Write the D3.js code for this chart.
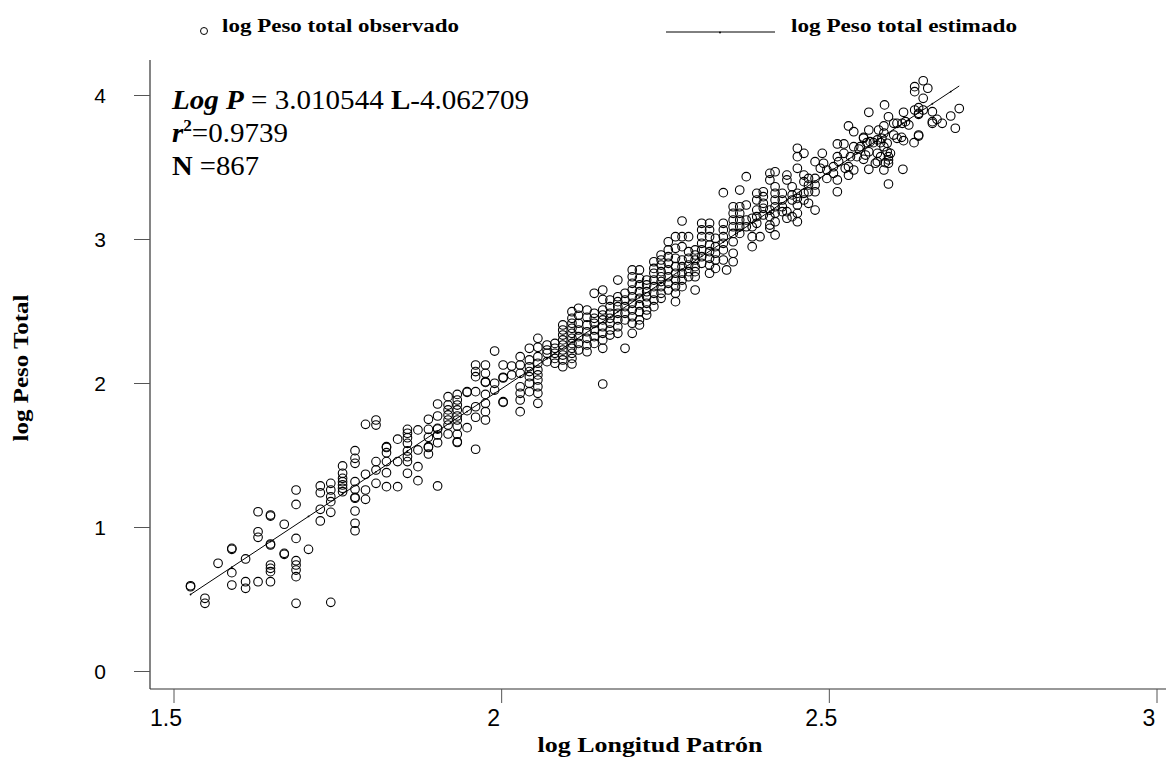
<!DOCTYPE html>
<html>
<head>
<meta charset="utf-8">
<script src="https://cdn.jsdelivr.net/npm/d3@7"></script>
<style>
  html, body { margin: 0; padding: 0; background: #fff; }
  svg { display: block; }
</style>
</head>
<body>
<svg id="chart" width="1170" height="762"></svg>
<script>
// Length–weight relationship: each row is one length class,
// [log standard length, log total weight of every fish in that class...]
const obsSmall = [
  [1.526, 0.592, 0.585],
  [1.548, 0.505, 0.470],
  [1.568, 0.748],
  [1.589, 0.852, 0.845, 0.683, 0.597],
  [1.610, 0.778, 0.620, 0.574],
  [1.629, 1.106, 0.967, 0.928, 0.620],
  [1.648, 1.083, 1.076, 0.882, 0.875, 0.736, 0.713, 0.690, 0.620],
  [1.669, 1.019, 0.817, 0.810],
  [1.687, 1.257, 1.157, 0.921, 0.766, 0.736, 0.701, 0.655, 0.470],
  [1.706, 0.845],
  [1.724, 1.285, 1.238, 1.123, 1.042],
  [1.740, 1.303, 1.257, 1.210, 1.176, 1.102, 0.477],
  [1.758, 1.424, 1.373, 1.338, 1.315, 1.292, 1.269, 1.245],
  [1.777, 1.530, 1.477, 1.442, 1.315, 1.262, 1.206, 1.200, 1.111, 1.026, 0.974],
  [1.793, 1.713, 1.366, 1.257, 1.192],
  [1.809, 1.743, 1.708, 1.454, 1.396, 1.303],
  [1.825, 1.558, 1.552, 1.516, 1.454, 1.377, 1.280],
  [1.842, 1.610, 1.454, 1.280]
];

const obsMid = [
  [1.857, 1.678, 1.651, 1.620, 1.581, 1.528, 1.488, 1.454, 1.373],
  [1.873, 1.674, 1.535, 1.419, 1.322],
  [1.889, 1.748, 1.678, 1.623, 1.558, 1.552, 1.507],
  [1.903, 1.854, 1.771, 1.685, 1.680, 1.639, 1.585, 1.285],
  [1.919, 1.905, 1.847, 1.813, 1.778, 1.743, 1.708, 1.646],
  [1.933, 1.921, 1.882, 1.847, 1.813, 1.771, 1.743, 1.701, 1.644, 1.592, 1.587],
  [1.948, 1.940, 1.935, 1.808, 1.690],
  [1.961, 2.125, 2.079, 2.044, 1.940, 1.835, 1.762, 1.540],
  [1.976, 2.125, 2.067, 2.009, 2.004, 1.921, 1.859, 1.801, 1.743],
  [1.990, 2.222, 1.998, 1.951],
  [2.003, 2.125, 2.040, 2.035, 1.870, 1.865],
  [2.016, 2.118, 2.056],
  [2.029, 2.183, 2.125, 2.067, 1.974, 1.928, 1.882, 1.801],
  [2.043, 2.241, 2.160, 2.113, 2.079, 2.044, 1.998, 1.940],
  [2.056, 2.310, 2.248, 2.183, 2.137, 2.090, 2.056, 2.021, 1.974, 1.928, 1.859],
  [2.070, 2.264, 2.229, 2.206, 2.148],
  [2.082, 2.275, 2.241, 2.206, 2.171, 2.137],
  [2.094, 2.403, 2.368, 2.333, 2.299, 2.264, 2.229, 2.194, 2.160, 2.113],
  [2.108, 2.495, 2.449, 2.415, 2.380, 2.345, 2.310, 2.275, 2.241, 2.206, 2.171, 2.132],
  [2.118, 2.519, 2.470, 2.415, 2.368, 2.322, 2.275, 2.229],
  [2.131, 2.507, 2.456, 2.403, 2.356, 2.310, 2.264, 2.217],
  [2.142, 2.623, 2.484, 2.449, 2.415, 2.368, 2.322, 2.275],
  [2.155, 2.646, 2.580, 2.507, 2.472, 2.438, 2.391, 2.345, 2.299, 2.241, 1.993],
  [2.166, 2.576, 2.530, 2.484, 2.449, 2.415, 2.368, 2.333],
  [2.178, 2.715, 2.599, 2.565, 2.530, 2.484, 2.438, 2.391, 2.345],
  [2.189, 2.623, 2.576, 2.530, 2.484, 2.438, 2.241],
  [2.200, 2.785, 2.738, 2.692, 2.646, 2.599, 2.553, 2.507, 2.460, 2.415, 2.345],
  [2.211, 2.785, 2.727, 2.681, 2.634, 2.588, 2.542, 2.495, 2.438, 2.403],
  [2.222, 2.715, 2.681, 2.634, 2.599, 2.553, 2.507, 2.472],
  [2.233, 2.842, 2.796, 2.762, 2.715, 2.669, 2.623, 2.576, 2.530],
  [2.244, 2.889, 2.854, 2.819, 2.773, 2.738, 2.704, 2.669, 2.623, 2.588],
  [2.255, 2.981, 2.924, 2.877, 2.831, 2.785, 2.738, 2.692, 2.646],
  [2.266, 3.016, 2.935, 2.866, 2.808, 2.762, 2.715, 2.669, 2.623, 2.565],
  [2.276, 3.125, 3.016, 2.947, 2.854, 2.808, 2.762, 2.715, 2.669],
  [2.286, 3.016, 2.912, 2.866, 2.819, 2.773, 2.738],
  [2.296, 2.924, 2.889, 2.854, 2.808, 2.773, 2.738, 2.646]
];

const obsLarge = [
  [2.306, 3.109, 3.063, 3.016, 2.970, 2.924, 2.877, 2.831],
  [2.318, 3.109, 3.063, 3.016, 2.958, 2.912, 2.866, 2.819, 2.762],
  [2.327, 3.005, 2.947, 2.901, 2.854, 2.796],
  [2.339, 3.322, 3.109, 3.063, 3.016, 2.970, 2.924, 2.854],
  [2.344, 2.785],
  [2.354, 3.224, 3.178, 3.132, 3.085, 3.039, 2.981, 2.901, 2.842],
  [2.364, 3.340, 3.224, 3.178, 3.132, 3.085, 3.039],
  [2.374, 3.433, 3.236, 3.132, 3.085],
  [2.383, 3.144, 3.085, 3.016, 2.947],
  [2.390, 3.317, 3.271, 3.201, 3.155, 3.109],
  [2.395, 3.016],
  [2.400, 3.328, 3.294, 3.248, 3.213, 3.167],
  [2.410, 3.456, 3.410, 3.201, 3.155, 3.097, 3.074],
  [2.418, 3.467, 3.363, 3.317, 3.271, 3.224, 3.178, 3.120, 3.028],
  [2.429, 3.317, 3.271, 3.224, 3.190],
  [2.436, 3.444, 3.410, 3.190, 3.144],
  [2.444, 3.363, 3.306, 3.271, 3.155],
  [2.452, 3.630, 3.572, 3.491, 3.317, 3.282, 3.236, 3.178, 3.120],
  [2.462, 3.595, 3.444, 3.398, 3.317, 3.271],
  [2.469, 3.421, 3.375, 3.328, 3.248],
  [2.479, 3.537, 3.421, 3.375, 3.328, 3.201]
];

const obsLargest = [
  [2.487, 3.491], [2.490, 3.595], [2.492, 3.526], [2.497, 3.479, 3.421],
  [2.507, 3.502, 3.456], [2.513, 3.660, 3.572, 3.410, 3.328], [2.515, 3.537],
  [2.523, 3.660, 3.595], [2.525, 3.491], [2.530, 3.785, 3.502, 3.443],
  [2.533, 3.572], [2.538, 3.745, 3.641, 3.479], [2.543, 3.572], [2.546, 3.625],
  [2.548, 3.641], [2.553, 3.706, 3.700, 3.553], [2.556, 3.583], [2.558, 3.669],
  [2.561, 3.880, 3.757, 3.606, 3.484], [2.563, 3.676], [2.568, 3.669],
  [2.571, 3.526], [2.574, 3.688, 3.595, 3.537], [2.576, 3.757],
  [2.579, 3.669, 3.572], [2.581, 3.699], [2.584, 3.785, 3.736, 3.641, 3.479],
  [2.585, 3.931], [2.586, 3.530], [2.589, 3.665, 3.606],
  [2.591, 3.849, 3.572, 3.549, 3.526, 3.382], [2.594, 3.595],
  [2.599, 3.803, 3.722], [2.604, 3.803, 3.699], [2.611, 3.706], [2.612, 3.803],
  [2.613, 3.484], [2.614, 3.880, 3.683], [2.617, 3.815], [2.622, 3.792],
  [2.630, 3.669], [2.631, 4.058, 4.023, 3.896],
  [2.637, 3.912, 3.873, 3.866, 3.722, 3.715], [2.644, 4.099, 3.977, 3.896],
  [2.651, 4.047], [2.658, 3.884, 3.815, 3.803], [2.665, 3.831], [2.673, 3.803],
  [2.686, 3.854], [2.693, 3.769], [2.699, 3.906]
];

// Fitted regression  log P = b·log L + a
const slope = 3.010544;
const intercept = -4.062709;

const xTicks = [1.5, 2, 2.5, 3];
const yTicks = [0, 1, 2, 3, 4];

const points = [];
[obsSmall, obsMid, obsLarge, obsLargest].forEach(group => {
  group.forEach(row => {
    row.slice(1).forEach(p => points.push({ L: row[0], P: p }));
  });
});
const classes = [obsSmall, obsMid, obsLarge, obsLargest].flat().map(r => r[0]);

const svg = d3.select("#chart");
svg.append("rect").attr("width", 1170).attr("height", 762).attr("fill", "#fff");

const x = d3.scaleLinear().domain([1.5, 3]).range([173.5, 1156.5]);
const y = d3.scaleLinear().domain([0, 4]).range([671, 95]);

const serif = "'Liberation Serif', 'Times New Roman', serif";
const sans = "'Liberation Sans', Arial, sans-serif";
const axisX0 = 150, axisY0 = 689;

// axes frame
svg.append("line").attr("x1", axisX0).attr("x2", axisX0).attr("y1", 60).attr("y2", axisY0)
  .attr("stroke", "#333").attr("stroke-width", 1.2);
svg.append("line").attr("x1", axisX0).attr("x2", 1166).attr("y1", axisY0).attr("y2", axisY0)
  .attr("stroke", "#333").attr("stroke-width", 1.2);

// x axis
const gx = svg.append("g").attr("transform", `translate(0,${axisY0})`)
  .call(d3.axisBottom(x).tickValues(xTicks).tickSize(14).tickFormat(d3.format("")));
gx.select(".domain").remove();
gx.selectAll(".tick line").attr("stroke", "#555");
gx.selectAll(".tick text")
  .attr("font-family", sans).attr("font-size", 23).attr("fill", "#000")
  .attr("x", -8).attr("dy", null).attr("y", 37);

// y axis
const gy = svg.append("g").attr("transform", `translate(${axisX0},0)`)
  .call(d3.axisLeft(y).tickValues(yTicks).tickSize(16).tickFormat(d3.format("d")));
gy.select(".domain").remove();
gy.selectAll(".tick line").attr("stroke", "#555");
gy.selectAll(".tick text")
  .attr("font-family", sans).attr("font-size", 21).attr("fill", "#000")
  .attr("text-anchor", "middle").attr("x", -50).attr("dy", "0.36em");

// axis titles
svg.append("text").attr("x", 537.5).attr("y", 752)
  .attr("font-family", serif).attr("font-weight", "bold").attr("font-size", 21)
  .attr("textLength", 225).attr("lengthAdjust", "spacingAndGlyphs")
  .text("log Longitud Patrón");
svg.append("text").attr("transform", "translate(28,368) rotate(-90)")
  .attr("text-anchor", "middle")
  .attr("font-family", serif).attr("font-weight", "bold").attr("font-size", 20)
  .attr("textLength", 147).attr("lengthAdjust", "spacingAndGlyphs")
  .text("log Peso Total");

// observed points
svg.append("g").selectAll("circle").data(points).join("circle")
  .attr("cx", d => x(d.L)).attr("cy", d => y(d.P)).attr("r", 4.3)
  .attr("fill", "none").attr("stroke", "#000").attr("stroke-width", 1.1);

// estimated line, with a small marker at every length class
const Lmin = d3.min(classes), Lmax = d3.max(classes);
const fit = L => slope * L + intercept;
svg.append("line")
  .attr("x1", x(Lmin)).attr("y1", y(fit(Lmin)))
  .attr("x2", x(Lmax)).attr("y2", y(fit(Lmax)))
  .attr("stroke", "#000").attr("stroke-width", 1);
svg.append("g").selectAll("circle").data(classes.filter((d, i) => i % 3 === 0)).join("circle")
  .attr("cx", d => x(d)).attr("cy", d => y(fit(d))).attr("r", 0.9).attr("fill", "#000");

// equation block
const eq = svg.append("g").attr("font-family", serif).attr("font-size", 27).attr("fill", "#000");
const t1 = eq.append("text").attr("x", 172).attr("y", 109)
  .attr("textLength", 357).attr("lengthAdjust", "spacingAndGlyphs");
t1.append("tspan").attr("font-weight", "bold").attr("font-style", "italic").text("Log P");
t1.append("tspan").text(" = 3.010544 ");
t1.append("tspan").attr("font-weight", "bold").text("L");
t1.append("tspan").text("-4.062709");
const t2 = eq.append("text").attr("x", 172).attr("y", 142)
  .attr("textLength", 116).attr("lengthAdjust", "spacingAndGlyphs");
t2.append("tspan").attr("font-weight", "bold").attr("font-style", "italic").text("r");
t2.append("tspan").attr("font-weight", "bold").attr("font-size", 16).attr("dy", -11).text("2");
t2.append("tspan").attr("dy", 11).text("=0.9739");
const t3 = eq.append("text").attr("x", 172).attr("y", 175)
  .attr("textLength", 87).attr("lengthAdjust", "spacingAndGlyphs");
t3.append("tspan").attr("font-weight", "bold").text("N");
t3.append("tspan").text(" =867");

// legend
svg.append("circle").attr("cx", 204).attr("cy", 31).attr("r", 3.5)
  .attr("fill", "none").attr("stroke", "#000").attr("stroke-width", 1);
svg.append("text").attr("x", 222).attr("y", 32)
  .attr("font-family", serif).attr("font-weight", "bold").attr("font-size", 18)
  .attr("textLength", 237).attr("lengthAdjust", "spacingAndGlyphs")
  .text("log Peso total observado");
svg.append("line").attr("x1", 666).attr("x2", 775).attr("y1", 32).attr("y2", 32)
  .attr("stroke", "#000").attr("stroke-width", 1);
svg.append("circle").attr("cx", 720).attr("cy", 32.5).attr("r", 0.9).attr("fill", "#000");
svg.append("text").attr("x", 791).attr("y", 32)
  .attr("font-family", serif).attr("font-weight", "bold").attr("font-size", 18)
  .attr("textLength", 226).attr("lengthAdjust", "spacingAndGlyphs")
  .text("log Peso total estimado");
</script>
</body>
</html>
